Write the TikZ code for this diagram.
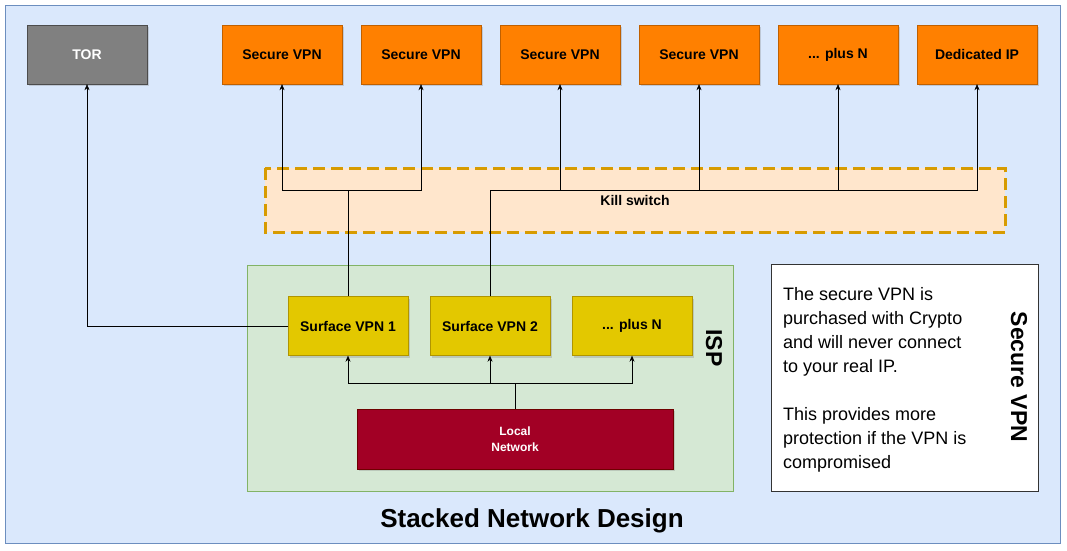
\documentclass[tikz,border=0pt]{standalone}
\usepackage{fontspec}
\setmainfont{Liberation Sans}
\usetikzlibrary{arrows.meta,shadows}
\definecolor{bgblue}{HTML}{DAE8FC}\definecolor{bgbluel}{HTML}{6C8EBF}
\definecolor{org}{HTML}{FF8000}\definecolor{orgl}{HTML}{C06000}
\definecolor{ks}{HTML}{FFE6CC}\definecolor{ksl}{HTML}{D79B00}
\definecolor{gr}{HTML}{D5E8D4}\definecolor{grl}{HTML}{82B366}
\definecolor{yl}{HTML}{E3C800}\definecolor{yll}{HTML}{B09500}
\definecolor{rd}{HTML}{A20025}\definecolor{rdl}{HTML}{6F0000}
\definecolor{tg}{HTML}{808080}
\tikzset{
 box/.style={draw, minimum width=120pt, minimum height=59pt, font=\bfseries\fontsize{14}{16}\selectfont, drop shadow={shadow xshift=2pt,shadow yshift=-2pt,opacity=0.3}},
 vpn/.style={box, fill=org, draw=orgl},
 surf/.style={box, fill=yl, draw=yll},
 arr/.style={-{Stealth[length=6pt,width=5pt]}, black},
 ln/.style={black}
}
\begin{document}
\begin{tikzpicture}[x=1pt,y=-1pt]
\useasboundingbox (0,0) rectangle (1067,550);
\draw[bgbluel, fill=bgblue] (5,5) rectangle (1060,543);
\node[box, fill=tg, draw=black!70, text=white] (tor) at (87,54.5) {TOR};
\node[vpn] (v1) at (282,54.5) {Secure VPN};
\node[vpn] (v2) at (421,54.5) {Secure VPN};
\node[vpn] (v3) at (560,54.5) {Secure VPN};
\node[vpn] (v4) at (699,54.5) {Secure VPN};
\node[vpn] (v5) at (838,54.5) {... plus N};
\node[vpn] (v6) at (977,54.5) {Dedicated IP};
\draw[ksl, fill=ks, line width=3pt, dash pattern=on 12pt off 6pt] (265,168) rectangle (1005,232);
\node[font=\bfseries\fontsize{14}{16}\selectfont] (kl) at (635,200) {Kill switch};
\draw[grl, fill=gr] (247,265) rectangle (733,491);
\node[rotate=-90, font=\bfseries\fontsize{23}{26}\selectfont] (isp) at (714,348) {ISP};
\node[surf] (s1) at (348,326) {Surface VPN 1};
\node[surf] (s2) at (490,326) {Surface VPN 2};
\node[surf] (s3) at (632,326) {... plus N};
\node[box, fill=rd, draw=rdl, minimum width=316pt, minimum height=60pt, text=white, align=center, font=\bfseries\fontsize{12}{16}\selectfont] (ln) at (515,439) {Local\\Network};
\node[draw=black!80, fill=white, minimum width=267pt, minimum height=227pt] (tb) at (904.5,377.5) {};
\node[anchor=north west, align=left, inner sep=0pt, font=\fontsize{18}{24}\selectfont] (tt) at (783,287) {The secure VPN is\\purchased with Crypto\\and will never connect\\to your real IP.\\[24pt]This provides more\\protection if the VPN is\\compromised};
\node[rotate=-90, font=\bfseries\fontsize{23}{26}\selectfont] (sv) at (1019,377) {Secure VPN};
\node[font=\bfseries\fontsize{26}{30}\selectfont] (title) at (532,521) {Stacked Network Design};
% connectors
\draw[arr] (s1.west) -| (tor.south);
\coordinate (j1) at (348,190);
\draw[ln] (s1.north) -- (j1);
\draw[arr] (j1) -| (v1.south);
\draw[arr] (j1) -| (v2.south);
\coordinate (j2) at (490,190);
\draw[ln] (s2.north) -- (j2);
\draw[arr] (j2) -| (v3.south);
\draw[arr] (j2) -| (v4.south);
\draw[arr] (j2) -| (v5.south);
\draw[arr] (j2) -| (v6.south);
\coordinate (j3) at (515,383);
\draw[ln] (ln.north) -- (j3);
\draw[arr] (j3) -| (s1.south);
\draw[arr] (j3) -| (s2.south);
\draw[arr] (j3) -| (s3.south);
\end{tikzpicture}
\end{document}
